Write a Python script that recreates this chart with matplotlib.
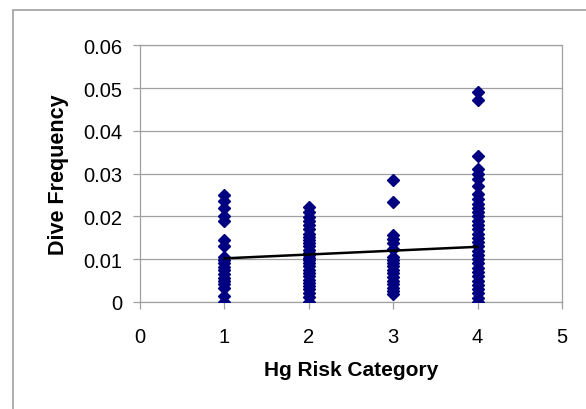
import matplotlib
matplotlib.use('Agg')
import matplotlib.pyplot as plt
from matplotlib.patches import Rectangle

# dive frequency per Hg risk category
cat1 = [0.025, 0.0237, 0.022, 0.0202, 0.019, 0.0145, 0.013,
        0.0105, 0.0098, 0.009, 0.0082, 0.0075, 0.0066, 0.0057, 0.005,
        0.0042, 0.0032, 0.0015, 0.0]
cat2 = [0.0222, 0.021, 0.0198, 0.019, 0.018, 0.017, 0.016, 0.0152, 0.0145,
        0.0138, 0.013, 0.0122, 0.0115, 0.011, 0.0104, 0.0098, 0.009, 0.0083,
        0.0075, 0.0068, 0.006, 0.0052, 0.0045, 0.0038, 0.003, 0.0022, 0.0012,
        0.0]
cat3 = [0.0285, 0.0233, 0.0157, 0.0148, 0.0137, 0.0125, 0.0105, 0.0098,
        0.009, 0.0083, 0.0075, 0.0067, 0.0058, 0.005, 0.0042, 0.0033,
        0.0025, 0.0018]
cat4 = [0.0492, 0.0472, 0.0342, 0.0311, 0.03, 0.0288, 0.0272, 0.0253,
        0.024, 0.023, 0.022, 0.021, 0.02, 0.019, 0.018, 0.017, 0.016, 0.015,
        0.014, 0.013, 0.012, 0.011, 0.01, 0.009, 0.008, 0.007, 0.006, 0.005,
        0.004, 0.003, 0.002, 0.001, 0.0]
groups = [cat1, cat2, cat3, cat4]

# linear trend line
trend_x = [1, 4]
trend_y = [0.0102, 0.0129]

plt.rcParams['font.family'] = ['Liberation Sans', 'DejaVu Sans']

fig = plt.figure(figsize=(5.86, 4.10), dpi=100)
ax = fig.add_axes([0.239, 0.261, 0.720, 0.626])

grey = '#a0a0a0'
for i, g in enumerate(groups):
    ax.plot([i + 1] * len(g), g, linestyle='none', marker='D', ms=6.3,
            color='#000080', mec='#000080', zorder=3)
ax.plot(trend_x, trend_y, color='black', lw=1.8, zorder=4)

ax.set_xlim(0, 5)
ax.set_ylim(0, 0.06)
ax.set_xticks(range(0, 6))
ax.set_yticks([0, 0.01, 0.02, 0.03, 0.04, 0.05, 0.06])
ax.set_yticklabels(['0', '0.01', '0.02', '0.03', '0.04', '0.05', '0.06'])
ax.yaxis.grid(True, color=grey, lw=0.9)
ax.set_axisbelow(True)
for s in ax.spines.values():
    s.set_color(grey)
    s.set_linewidth(0.9)
ax.tick_params(axis='both', colors=grey, length=5, width=0.9,
               labelcolor='black', labelsize=14.5)
ax.tick_params(axis='y', pad=8)
ax.tick_params(axis='x', pad=13)

ax.set_xlabel('Hg Risk Category', fontsize=15, fontweight='bold',
              labelpad=10)
ax.set_ylabel('Dive Frequency', fontsize=15.5, fontweight='bold',
              labelpad=10)

# chart area frame (partly outside the picture)
fig.patches.append(Rectangle((13 / 586, -0.1), 1.2, 1.1 - 11 / 410,
                             transform=fig.transFigure, fill=False,
                             edgecolor=grey, lw=1.2))

fig.savefig('out.png', dpi=100)
